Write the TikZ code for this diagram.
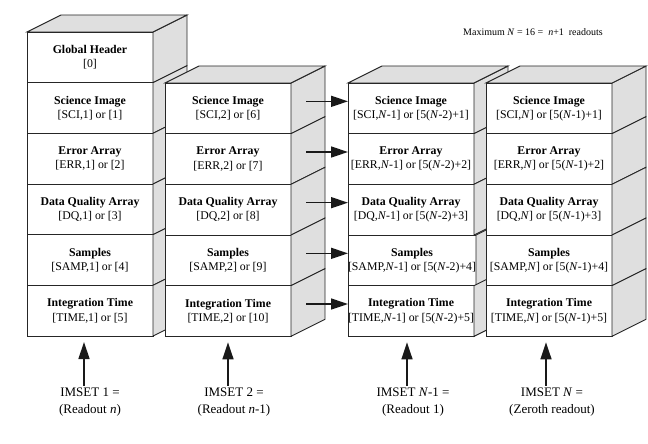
\documentclass[tikz,border=0pt]{standalone}
\usepackage{fontspec}
\setmainfont{Liberation Serif}
\usetikzlibrary{arrows.meta}

\tikzset{
  layer/.style={draw=black!85, line width=0.9pt, fill=white,
    minimum width=126pt, minimum height=50.67pt, inner sep=0pt, outer sep=0pt,
    align=center, anchor=north west, font=\fontsize{11.8}{14.3}\selectfont},
  face/.style={draw=black!85, line width=0.9pt, fill=gray!25},
  feed/.style={-{Triangle[length=17pt,width=11pt]}, line width=1.5pt, draw=black!90, fill=black!90},
  caption/.style={align=center, inner sep=2pt, font=\fontsize{13}{16.7}\selectfont}
}

\begin{document}
\begin{tikzpicture}[x=1pt,y=-1pt]
\useasboundingbox (0,0) rectangle (648,444);

% Draw the first readout (with header)
\foreach \ttl/\idx [count=\i] in {{Global Header}/{[0]},
    {Science Image}/{[SCI,1] or [1]}, {Error Array}/{[ERR,1] or [2]},
    {Data Quality Array}/{[DQ,1] or [3]}, {Samples}/{[SAMP,1] or [4]},
    {Integration Time}/{[TIME,1] or [5]}}{
  \node[layer] (s1r\i) at (27,{32+(\i-1)*50.67}) {\textbf{\ttl}\\\relax\idx};
  \filldraw[face] (s1r\i.north east) -- ++(34,-17) -- ++(0,50.67) -- (s1r\i.south east) -- cycle;
}
\filldraw[face] (s1r1.north west) -- ++(34,-17) -- ++(126,0) -- (s1r1.north east) -- cycle;

% Draw the second readout
\foreach \ttl/\idx [count=\i] in {{Science Image}/{[SCI,2] or [6]},
    {Error Array}/{[ERR,2] or [7]}, {Data Quality Array}/{[DQ,2] or [8]},
    {Samples}/{[SAMP,2] or [9]}, {Integration Time}/{[TIME,2] or [10]}}{
  \node[layer] (s2r\i) at (165,{83+(\i-1)*50.67}) {\textbf{\ttl}\\\relax\idx};
  \filldraw[face] (s2r\i.north east) -- ++(34,-17) -- ++(0,50.67) -- (s2r\i.south east) -- cycle;
}
\filldraw[face] (s2r1.north west) -- ++(34,-17) -- ++(126,0) -- (s2r1.north east) -- cycle;

% Draw readout N-1
\foreach \ttl/\idx [count=\i] in {{Science Image}/{[SCI,\textit{N}-1] or [5(\textit{N}-2)+1]},
    {Error Array}/{[ERR,\textit{N}-1] or [5(\textit{N}-2)+2]},
    {Data Quality Array}/{[DQ,\textit{N}-1] or [5(\textit{N}-2)+3]},
    {Samples}/{[SAMP,\textit{N}-1] or [5(\textit{N}-2)+4]},
    {Integration Time}/{[TIME,\textit{N}-1] or [5(\textit{N}-2)+5]}}{
  \node[layer] (s3r\i) at (348,{83+(\i-1)*50.67}) {\textbf{\ttl}\\\relax\idx};
  \filldraw[face] (s3r\i.north east) -- ++(34,-17) -- ++(0,50.67) -- (s3r\i.south east) -- cycle;
}
\filldraw[face] (s3r1.north west) -- ++(34,-17) -- ++(126,0) -- (s3r1.north east) -- cycle;

% Draw readout N
\foreach \ttl/\idx [count=\i] in {{Science Image}/{[SCI,\textit{N}] or [5(\textit{N}-1)+1]},
    {Error Array}/{[ERR,\textit{N}] or [5(\textit{N}-1)+2]},
    {Data Quality Array}/{[DQ,\textit{N}] or [5(\textit{N}-1)+3]},
    {Samples}/{[SAMP,\textit{N}] or [5(\textit{N}-1)+4]},
    {Integration Time}/{[TIME,\textit{N}] or [5(\textit{N}-1)+5]}}{
  \node[layer] (s4r\i) at (486,{83+(\i-1)*50.67}) {\textbf{\ttl}\\\relax\idx};
  \filldraw[face] (s4r\i.north east) -- ++(34,-17) -- ++(0,50.67) -- (s4r\i.south east) -- cycle;
}
\filldraw[face] (s4r1.north west) -- ++(34,-17) -- ++(126,0) -- (s4r1.north east) -- cycle;

% Arrows across the gap
\foreach \i in {1,...,5}
  \draw[feed] ([xshift=15pt,yshift=7pt]s2r\i.east) -- ([yshift=7pt]s3r\i.west);

% Draw nodes
\node[font=\fontsize{10}{12}\selectfont] (maxn) at (533,32) {Maximum \textit{N} = 16 = ~\textit{n}+1 ~readouts};
\node[caption] (set1) at (90,402) {IMSET 1 =\\(Readout \textit{n})};
\node[caption] (set2) at (234,402) {IMSET 2 =\\(Readout \textit{n}-1)};
\node[caption] (set3) at (413,402) {IMSET \textit{N}-1 =\\(Readout 1)};
\node[caption] (set4) at (552,402) {IMSET \textit{N} =\\(Zeroth readout)};

\draw[feed] ([xshift=-6pt]set1.north) -- ([xshift=-6pt,yshift=-6pt]set1.north |- s1r6.south);
\draw[feed] ([xshift=-6pt]set2.north) -- ([xshift=-6pt,yshift=-6pt]set2.north |- s2r5.south);
\draw[feed] ([xshift=-6pt]set3.north) -- ([xshift=-6pt,yshift=-6pt]set3.north |- s3r5.south);
\draw[feed] ([xshift=-6pt]set4.north) -- ([xshift=-6pt,yshift=-6pt]set4.north |- s4r5.south);
\end{tikzpicture}
\end{document}
